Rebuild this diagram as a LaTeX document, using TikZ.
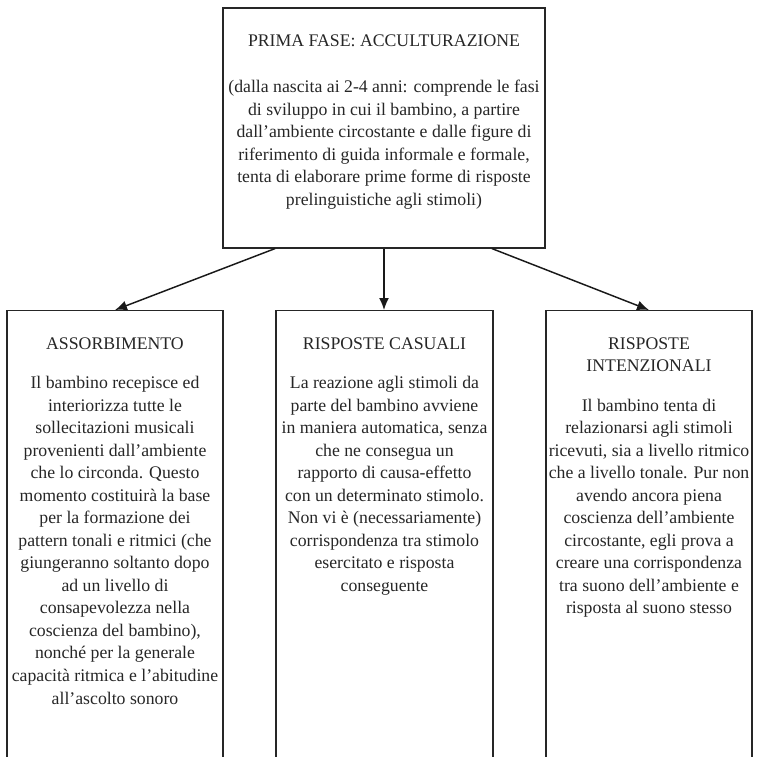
\documentclass[tikz,border=0pt]{standalone}
\usepackage{fontspec}
\setmainfont{Liberation Serif}
\usetikzlibrary{arrows.meta,calc,positioning}

\tikzset{
  box/.style={draw=black!85, line width=0.9pt, inner sep=0pt},
  testo/.style={inner sep=0pt, align=center, text=black!85,
    font=\fontsize{13.3}{16.9}\selectfont},
  freccia/.style={draw=black!90, line width=1.1pt, -{Latex[length=9pt,width=7.5pt]}}
}

\begin{document}
\begin{tikzpicture}[x=0.75pt,y=-0.75pt]
  \useasboundingbox (0,0) rectangle (758,757);
  \clip (0,0) rectangle (758,757);
  % fase principale
  \node[box, minimum width=241.5pt, minimum height=180pt] at (384,128) (fase) {};
  \node[testo, below=20pt of fase.north] (fasetxt) {PRIMA FASE: ACCULTURAZIONE\\[18pt]
    (dalla nascita ai 2-4 anni: comprende le fasi\\
    di sviluppo in cui il bambino, a partire\\
    dall’ambiente circostante e dalle figure di\\
    riferimento di guida informale e formale,\\
    tenta di elaborare prime forme di risposte\\
    prelinguistiche agli stimoli)};
  % sottofasi
  \node[box, anchor=north, minimum width=162pt, minimum height=375pt] at (115,310) (assorb) {};
  \node[box, anchor=north, minimum width=162.75pt, minimum height=375pt] at (384.5,310) (casuali) {};
  \node[box, anchor=north, minimum width=154.5pt, minimum height=375pt] at (649,310) (intenz) {};
  \node[testo, below=20.5pt of assorb.north] (assorbtxt) {ASSORBIMENTO\\[12.5pt]
    Il bambino recepisce ed\\
    interiorizza tutte le\\
    sollecitazioni musicali\\
    provenienti dall’ambiente\\
    che lo circonda. Questo\\
    momento costituirà la base\\
    per la formazione dei\\
    pattern tonali e ritmici (che\\
    giungeranno soltanto dopo\\
    ad un livello di\\
    consapevolezza nella\\
    coscienza del bambino),\\
    nonché per la generale\\
    capacità ritmica e l’abitudine\\
    all’ascolto sonoro};
  \node[testo, below=20.5pt of casuali.north] (casualitxt) {RISPOSTE CASUALI\\[12.5pt]
    La reazione agli stimoli da\\
    parte del bambino avviene\\
    in maniera automatica, senza\\
    che ne consegua un\\
    rapporto di causa-effetto\\
    con un determinato stimolo.\\
    Non vi è (necessariamente)\\
    corrispondenza tra stimolo\\
    esercitato e risposta\\
    conseguente};
  \node[testo, below=20.5pt of intenz.north] (intenztxt) {RISPOSTE\\
    INTENZIONALI\\[12.5pt]
    Il bambino tenta di\\
    relazionarsi agli stimoli\\
    ricevuti, sia a livello ritmico\\
    che a livello tonale. Pur non\\
    avendo ancora piena\\
    coscienza dell’ambiente\\
    circostante, egli prova a\\
    creare una corrispondenza\\
    tra suono dell’ambiente e\\
    risposta al suono stesso};
  % frecce
  \draw[freccia] ($(fase.south)+(-109,0)$) -- (assorb.north);
  \draw[freccia] (fase.south) -- (fase.south |- casuali.north);
  \draw[freccia] ($(fase.south)+(108,0)$) -- (intenz.north);
\end{tikzpicture}
\end{document}
